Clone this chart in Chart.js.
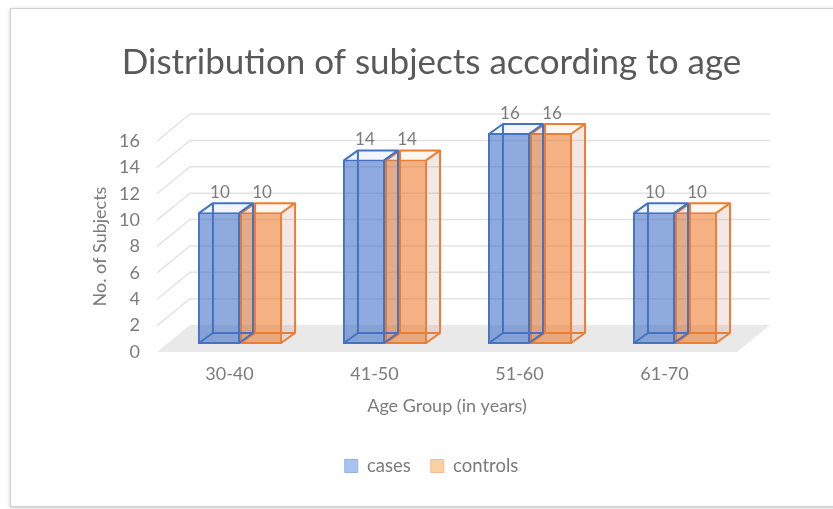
<!DOCTYPE html>
<html>
<head>
<meta charset="utf-8">
<script src="https://cdn.jsdelivr.net/npm/chart.js@4.4.1/dist/chart.umd.min.js"></script>
<style>
  html, body { margin: 0; padding: 0; background: #fff; overflow: hidden; width: 833px; height: 509px; }
  #card { position: absolute; left: 10px; top: 8px; width: 900px; height: 497px; background: #fff;
          border: 1px solid #cfcfcf; box-shadow: 0 1px 4px rgba(0,0,0,.22); }
  #chart { position: absolute; left: 10px; top: 8px; }
</style>
</head>
<body>
<div id="card"></div>
<canvas id="chart" width="843" height="498"></canvas>
<script>
// ---- data ----
const ageGroups = ['30-40', '41-50', '51-60', '61-70'];
const cases = [10, 14, 16, 10];
const controls = [10, 14, 16, 10];
const countMax = 16;
const countStep = 2;

// ---- look ----
const FONT = 'Lato, "Open Sans", sans-serif';
const TEXT = '#7b7b7b';
const SERIES = [
  { line: '#4472c4', face: 'rgba(68,114,196,0.6)', top: 'rgba(68,114,196,0.07)', side: 'rgba(68,114,196,0.10)',
    key: '#a9c3f1', keyLine: '#93b2ea' },
  { line: '#ed7d31', face: 'rgba(237,125,49,0.6)', top: 'rgba(237,125,49,0.07)', side: 'rgba(190,130,110,0.18)',
    key: '#fcd0a5', keyLine: '#f8bb8c' }
];

// oblique projection offsets, measured from the plane of the bar fronts
const FRONT = { dx: -10.5, dy: 8 };  // front edge of the floor (tick labels live here)
const WALL  = { dx: 22.5, dy: -19 }; // back wall
const DEPTH = { dx: 14, dy: -10 };   // thickness of one bar

function poly(ctx, pts) {
  ctx.beginPath();
  ctx.moveTo(pts[0][0], pts[0][1]);
  for (let i = 1; i < pts.length; i++) ctx.lineTo(pts[i][0], pts[i][1]);
  ctx.closePath();
}

const box3d = {
  id: 'box3d',
  afterLayout(chart) {
    // axis titles belong to the front plane too
    const { x, y } = chart.scales;
    x.left += FRONT.dx; x.right += FRONT.dx;
    y.top += FRONT.dy; y.bottom += FRONT.dy;
  },
  beforeDatasetsDraw(chart) {
    const { ctx, chartArea: a, scales: { y } } = chart;
    const y0 = y.getPixelForValue(0);
    ctx.save();
    // floor
    poly(ctx, [
      [a.left + FRONT.dx, y0 + FRONT.dy], [a.right + FRONT.dx, y0 + FRONT.dy],
      [a.right + WALL.dx, y0 + WALL.dy], [a.left + WALL.dx, y0 + WALL.dy]
    ]);
    ctx.fillStyle = '#e9e9e9';
    ctx.fill();
    // gridlines: up the side, then across the back wall
    ctx.strokeStyle = '#e3e3e3';
    ctx.lineWidth = 1.5;
    for (let v = countStep; v <= countMax; v += countStep) {
      const py = y.getPixelForValue(v);
      ctx.beginPath();
      ctx.moveTo(a.left + FRONT.dx, py + FRONT.dy);
      ctx.lineTo(a.left + WALL.dx, py + WALL.dy);
      ctx.lineTo(a.right + WALL.dx, py + WALL.dy);
      ctx.stroke();
    }
    ctx.restore();
  },
  beforeDatasetDraw(chart, args) {
    // sides, top and hidden edges of each bar; the library then paints the front face
    const ctx = chart.ctx;
    const s = SERIES[args.index];
    const { dx, dy } = DEPTH;
    ctx.save();
    args.meta.data.forEach(bar => {
      const p = bar.getProps(['x', 'y', 'base', 'width'], true);
      const L = p.x - p.width / 2 + 1, R = p.x + p.width / 2 - 1;
      const T = p.y + 1, B = p.base - 1;
      poly(ctx, [[R, T], [R + dx, T + dy], [R + dx, B + dy], [R, B]]);
      ctx.fillStyle = s.side; ctx.fill();
      poly(ctx, [[L, T], [L + dx, T + dy], [R + dx, T + dy], [R, T]]);
      ctx.fillStyle = s.top; ctx.fill();
      ctx.strokeStyle = s.line;
      ctx.lineWidth = 2;
      ctx.lineJoin = 'round';
      ctx.beginPath();
      ctx.rect(L + dx, T + dy, R - L, B - T);
      [[L, T], [R, T], [R, B], [L, B]].forEach(([cx, cy]) => {
        ctx.moveTo(cx, cy); ctx.lineTo(cx + dx, cy + dy);
      });
      ctx.stroke();
    });
    ctx.restore();
  },
  afterDatasetsDraw(chart) {
    // value labels above each bar
    const ctx = chart.ctx;
    ctx.save();
    ctx.font = '17px ' + FONT;
    ctx.fillStyle = TEXT;
    ctx.textAlign = 'center';
    ctx.textBaseline = 'middle';
    chart.data.datasets.forEach((ds, i) => {
      chart.getDatasetMeta(i).data.forEach((bar, j) => {
        ctx.fillText(String(ds.data[j]), bar.x + 1, bar.y - 19.5);
      });
    });
    ctx.restore();
  }
};

new Chart(document.getElementById('chart'), {
  type: 'bar',
  data: {
    labels: ageGroups,
    datasets: [
      { label: 'cases', data: cases },
      { label: 'controls', data: controls }
    ].map((ds, i) => Object.assign(ds, {
      backgroundColor: SERIES[i].face,
      borderColor: SERIES[i].line,
      borderWidth: 2,
      borderSkipped: false,
      categoryPercentage: 0.58,
      barPercentage: 1,
      clip: false
    }))
  },
  options: {
    responsive: false,
    animation: false,
    devicePixelRatio: 1,
    events: [],
    layout: { padding: { left: 0, right: 0, top: 0, bottom: 20.75 } },
    plugins: {
      title: {
        display: true,
        text: 'Distribution of subjects according to age',
        color: '#595959',
        font: { family: FONT, size: 35, weight: 'normal', lineHeight: 1.2 },
        padding: { top: 34.2, bottom: 48.8 }
      },
      legend: {
        position: 'bottom',
        labels: {
          boxWidth: 13, boxHeight: 13, padding: 20,
          color: TEXT,
          font: { family: FONT, size: 18.5 },
          generateLabels: chart => chart.data.datasets.map((ds, i) => ({
            text: ds.label, fillStyle: SERIES[i].key, strokeStyle: SERIES[i].keyLine,
            lineWidth: 1, datasetIndex: i, hidden: false, fontColor: TEXT
          }))
        }
      },
      tooltip: { enabled: false }
    },
    scales: {
      x: {
        offset: true,
        grid: { display: false, drawTicks: false },
        border: { display: false },
        ticks: { color: TEXT, font: { family: FONT, size: 18 }, padding: 19.5, labelOffset: FRONT.dx },
        title: { display: true, text: 'Age Group (in years)', color: TEXT,
                 font: { family: FONT, size: 18 }, padding: { top: 0, bottom: 20 } },
        afterFit: s => { s.height = 92.75; }
      },
      y: {
        min: 0, max: countMax,
        grid: { display: false, drawTicks: false },
        border: { display: false },
        ticks: { stepSize: countStep, color: TEXT, font: { family: FONT, size: 18 }, padding: 27.5,
                 labelOffset: FRONT.dy },
        title: { display: true, text: 'No. of Subjects', color: TEXT,
                 font: { family: FONT, size: 18 }, padding: { top: 79, bottom: 0 } },
        afterFit: s => { s.width = 157.5; }
      },
      // room on the right for the back wall and floor running off behind the plot
      depth: {
        type: 'linear', axis: 'y', position: 'right',
        grid: { display: false }, border: { display: false }, ticks: { display: false },
        afterFit: s => { s.width = 105.5; }
      }
    }
  },
  plugins: [box3d]
});
</script>
</body>
</html>
